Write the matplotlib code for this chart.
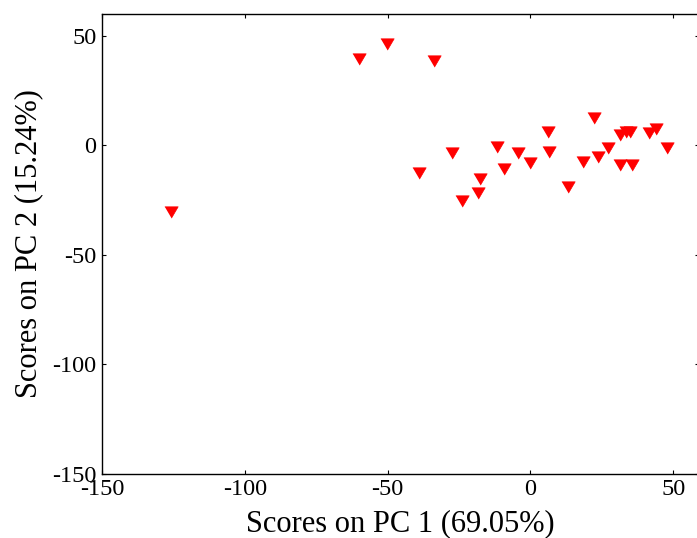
import numpy as np
import matplotlib
matplotlib.use("Agg")
import matplotlib.pyplot as plt

# PCA scores (PC1, PC2)
pc1 = [-125.8, -60.0, -50.3, -33.9,
       -39.1, -27.3, -24.1, -18.3, -17.7, -11.6, -9.1, -4.3, 0.0, 6.0, 6.4,
       13.1, 18.4, 22.3, 23.8, 27.1, 31.4, 33.4, 34.7, 31.4, 35.6, 41.4, 43.8, 47.7]
pc2 = [-30.5, 39.4, 46.3, 38.7,
       -12.8, -3.4, -25.3, -21.6, -15.4, -0.9, -11.0, -3.4, -7.9, 5.9, -2.9,
       -18.9, -7.8, 12.6, -5.2, -1.4, 4.7, 5.9, 6.2, -9.0, -9.0, 5.5, 7.4, -1.4]

xticks = [-150, -100, -50, 0, 50]
yticks = [-150, -100, -50, 0, 50]

plt.rcParams["font.family"] = ["Liberation Serif", "DejaVu Serif"]
plt.rcParams["axes.unicode_minus"] = False

fig = plt.figure(figsize=(6.97, 5.38), dpi=100)
# osi siahaju mierne za pravy okraj obrazku (ako v originale)
ax = fig.add_axes([0.1463, 0.1195, 0.8565, 0.8545])

tri = [(-1.0, 0.85), (1.0, 0.85), (0.0, -0.85)]
ax.plot(pc1, pc2, linestyle="none", marker=tri, markersize=9.6,
        color="#ff0000", markeredgecolor="#ff0000", markeredgewidth=0.5)

ax.set_xlim(-150, 59)
ax.set_ylim(-150, 60)
ax.set_xticks(xticks)
ax.set_yticks(yticks)
ax.tick_params(direction="in", length=3, width=0.8, top=True, right=True,
               labelsize=17.5)
ax.tick_params(axis="x", pad=3.5)
ax.tick_params(axis="y", pad=4)
for s in ax.spines.values():
    s.set_linewidth(1.0)

ax.set_xlabel("Scores on PC 1 (69.05%)", fontsize=22)
ax.set_ylabel("Scores on PC 2 (15.24%)", fontsize=22)
ax.xaxis.set_label_coords(0.5, -0.078)
ax.yaxis.set_label_coords(-0.098, 0.5)

fig.savefig("out.png", dpi=100)
